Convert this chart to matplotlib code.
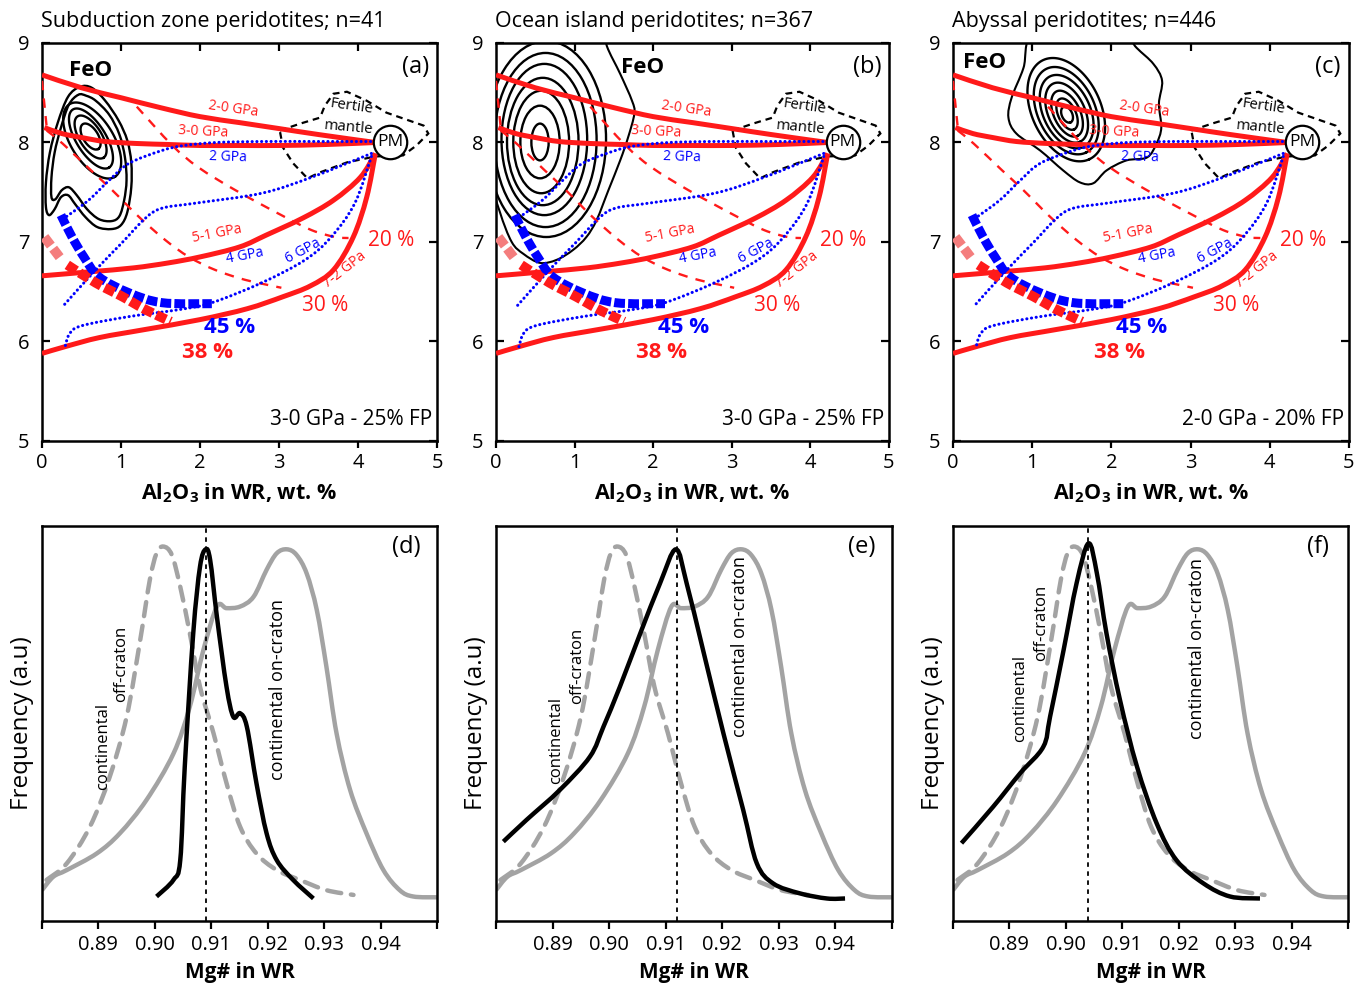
import numpy as np
import matplotlib
matplotlib.use('Agg')
import matplotlib.pyplot as plt
from matplotlib.path import Path
from matplotlib.patches import PathPatch, Ellipse, Polygon

plt.rcParams['font.family'] = ['Open Sans', 'DejaVu Sans']
plt.rcParams['mathtext.fontset'] = 'custom'
plt.rcParams['mathtext.rm'] = 'Open Sans'
plt.rcParams['mathtext.bf'] = 'Open Sans:bold'

# ------------------------------------------------------------------ data
titles = ["Subduction zone peridotites; n=41",
          "Ocean island peridotites; n=367",
          "Abyssal peridotites; n=446"]
panel_top = ["(a)", "(b)", "(c)"]
panel_bot = ["(d)", "(e)", "(f)"]
captions = ["3-0 GPa - 25% FP", "3-0 GPa - 25% FP", "2-0 GPa - 20% FP"]
feo_pos = [(0.61, 8.72), (1.87, 8.75), (0.40, 8.80)]

# melting paths (Al2O3 wt.% vs FeO wt.%)
p20_x = [0.0, 0.5, 1.0, 1.5, 2.0, 2.5, 3.0, 3.5, 4.22]
p20_y = [8.68, 8.55, 8.45, 8.35, 8.26, 8.20, 8.14, 8.08, 8.00]
p30_x = [0.03, 0.25, 0.5, 0.8, 1.2, 1.6, 2.0, 2.5, 3.0, 3.6, 4.22]
p30_y = [8.15, 8.09, 8.05, 8.01, 7.99, 7.98, 7.97, 7.97, 7.97, 7.98, 8.00]
p51_x = [0.0, 0.6, 1.16, 1.6, 2.0, 2.5, 2.84, 3.3, 3.69, 4.03, 4.22]
p51_y = [6.66, 6.70, 6.74, 6.79, 6.85, 6.95, 7.07, 7.24, 7.42, 7.65, 7.89]
p72_x = [0.0, 0.3, 0.73, 1.3, 2.0, 2.6, 3.05, 3.4, 3.69, 3.94, 4.11, 4.22]
p72_y = [5.88, 5.95, 6.04, 6.12, 6.22, 6.33, 6.45, 6.56, 6.72, 7.05, 7.45, 7.89]

# melt-fraction isopleths (dashed)
iso_l_x = [0.0, 0.06]
iso_l_y = [8.62, 8.15]
iso30_x = [0.06, 0.26, 0.62, 0.89, 1.23, 1.56, 1.86, 2.19, 2.57, 3.03]
iso30_y = [8.12, 7.99, 7.72, 7.52, 7.25, 7.02, 6.85, 6.72, 6.62, 6.54]
iso20_x = [1.20, 1.65, 1.98, 2.45, 3.03, 3.41, 3.71, 3.88]
iso20_y = [8.36, 7.97, 7.75, 7.52, 7.27, 7.12, 7.05, 7.04]

# isobaric melting (blue dotted)
g2_x = [4.22, 3.5, 2.8, 2.2, 1.8, 1.52, 1.1, 0.85, 0.59, 0.30]
g2_y = [8.01, 8.01, 8.01, 8.00, 7.97, 7.92, 7.79, 7.62, 7.42, 7.25]
g4_x = [4.17, 3.41, 2.78, 1.94, 1.52, 1.31, 1.01, 0.68, 0.26]
g4_y = [7.89, 7.65, 7.49, 7.39, 7.34, 7.24, 6.99, 6.72, 6.35]
g6_x = [4.17, 3.96, 3.66, 3.33, 2.78, 2.15, 1.73, 1.10, 0.51, 0.35, 0.29]
g6_y = [7.86, 7.39, 7.05, 6.82, 6.59, 6.39, 6.32, 6.25, 6.16, 6.08, 5.94]

# maximum melting (thick dashed)
mb_x = [0.24, 0.38, 0.53, 0.72, 1.10, 1.52, 2.15]
mb_y = [7.27, 7.05, 6.85, 6.65, 6.49, 6.39, 6.38]
mrl_x = [0.03, 0.25]
mrl_y = [7.05, 6.82]
mr_x = [0.32, 0.68, 1.02, 1.31, 1.63]
mr_y = [6.77, 6.59, 6.45, 6.32, 6.20]

# fertile mantle field
fm_x = [3.01, 3.27, 3.52, 3.58, 3.69, 3.86, 4.11, 4.36, 4.83, 4.89, 4.74,
        4.57, 4.22, 3.86, 3.52, 3.36, 3.18, 3.05]
fm_y = [8.12, 8.19, 8.25, 8.37, 8.49, 8.51, 8.42, 8.30, 8.17, 8.09, 7.97,
        7.87, 7.86, 7.80, 7.70, 7.64, 7.79, 7.95]
pm_xy = (4.41, 8.01)

# density contours of the sample sets
# rings: centre x, centre y, semi-axes a, b (screen px), tilt (deg)
rings_a = [(0.615, 8.06, 14.6, 7.5, -58), (0.615, 8.055, 24.4, 11.1, -58),
           (0.62, 8.04, 34.2, 14.7, -58), (0.635, 8.02, 42.8, 21.3, -58)]
outer_a1_x = [0.48, 0.33, 0.20, 0.10, 0.05, 0.05, 0.09, 0.16, 0.24, 0.33, 0.42,
              0.55, 0.70, 0.88, 1.00, 1.08, 1.13, 1.13, 1.08, 0.97, 0.80, 0.63]
outer_a1_y = [8.56, 8.46, 8.20, 7.90, 7.60, 7.35, 7.27, 7.33, 7.45, 7.47, 7.38,
              7.25, 7.15, 7.13, 7.17, 7.30, 7.55, 7.80, 8.02, 8.22, 8.42, 8.55]
outer_a2_x = [0.46, 0.34, 0.24, 0.16, 0.12, 0.12, 0.17, 0.25, 0.34, 0.44, 0.57,
              0.72, 0.88, 0.98, 1.04, 1.07, 1.05, 0.98, 0.85, 0.68, 0.56]
outer_a2_y = [8.48, 8.38, 8.15, 7.90, 7.65, 7.45, 7.43, 7.52, 7.55, 7.47, 7.33,
              7.23, 7.21, 7.26, 7.42, 7.62, 7.85, 8.08, 8.28, 8.42, 8.47]
# (b) rings: cx, cy, semi-x, semi-y (data units)
rings_b = [(0.56, 8.005, 0.11, 0.185), (0.56, 8.005, 0.25, 0.365),
           (0.575, 8.005, 0.355, 0.515), (0.595, 8.01, 0.455, 0.64),
           (0.615, 8.03, 0.545, 0.76), (0.63, 8.025, 0.65, 0.875),
           (0.64, 8.035, 0.76, 0.985)]
outer_b_x = [1.35, 1.41, 1.58, 1.73, 1.76, 1.68, 1.58, 1.43, 1.28, 1.15, 0.98,
             0.77, 0.56, 0.35, 0.20, 0.05, -0.08, -0.15, -0.10, 0.5]
outer_b_y = [9.20, 8.97, 8.69, 8.42, 8.29, 8.05, 7.82, 7.52, 7.22, 7.05, 6.92,
             6.82, 6.79, 6.88, 7.00, 7.30, 7.70, 8.50, 9.20, 9.40]
# (c) rings: centre x, centre y, semi-axes a, b (screen px), tilt (deg)
rings_c = [(1.44, 8.28, 8.5, 5.2, -65), (1.44, 8.285, 16.8, 8.8, -65),
           (1.44, 8.29, 24.6, 13.2, -65), (1.435, 8.30, 32.0, 18.3, -65),
           (1.435, 8.31, 39.0, 23.5, -65), (1.43, 8.32, 46.3, 28.6, -65),
           (1.43, 8.33, 54.7, 34.4, -65)]
outer_c_x = [1.00, 0.89, 0.74, 0.70, 0.80, 1.10, 1.39, 1.60, 1.77, 1.94, 2.19,
             2.45, 2.57, 2.63, 2.60, 2.64, 2.53, 2.32, 2.15, 1.6]
outer_c_y = [9.10, 8.75, 8.45, 8.25, 8.09, 7.92, 7.72, 7.60, 7.59, 7.72, 7.82,
             7.85, 7.99, 8.15, 8.39, 8.62, 8.79, 8.95, 9.10, 9.35]

# Mg# frequency distributions
on_x = [0.8800, 0.8820, 0.8844, 0.8897, 0.8938, 0.8985, 0.9033, 0.9062, 0.9086,
        0.9110, 0.9127, 0.9151, 0.9175, 0.9198, 0.9216, 0.9234, 0.9251, 0.9269,
        0.9287, 0.9304, 0.9322, 0.9346, 0.9375, 0.9405, 0.9434, 0.9458, 0.9500]
on_y = [0.078, 0.112, 0.129, 0.171, 0.222, 0.306, 0.424, 0.543, 0.686, 0.796,
        0.792, 0.796, 0.821, 0.889, 0.931, 0.941, 0.927, 0.880, 0.787, 0.644,
        0.475, 0.332, 0.222, 0.129, 0.078, 0.062, 0.060]
off_x = [0.8808, 0.8844, 0.8885, 0.8920, 0.8950, 0.8974, 0.8991, 0.9003, 0.9015,
         0.9030, 0.9045, 0.9062, 0.9080, 0.9104, 0.9127, 0.9151, 0.9180, 0.9216,
         0.9257, 0.9304, 0.9352]
off_y = [0.104, 0.146, 0.239, 0.365, 0.517, 0.711, 0.863, 0.931, 0.948, 0.927,
         0.846, 0.728, 0.593, 0.475, 0.349, 0.239, 0.171, 0.129, 0.104, 0.078,
         0.066]
sz_x = [0.9003, 0.9033, 0.9045, 0.9053, 0.9068, 0.9080, 0.9090, 0.9098, 0.9110,
        0.9127, 0.9139, 0.9151, 0.9163, 0.9180, 0.9198, 0.9216, 0.9245, 0.9281]
sz_y = [0.062, 0.104, 0.154, 0.391, 0.728, 0.897, 0.941, 0.914, 0.770, 0.593,
        0.517, 0.526, 0.492, 0.349, 0.222, 0.154, 0.104, 0.057]
oi_x = [0.8813, 0.8854, 0.8913, 0.8966, 0.8990, 0.9019, 0.9055, 0.9090, 0.9118,
        0.9137, 0.9166, 0.9202, 0.9237, 0.9261, 0.9290, 0.9337, 0.9385, 0.9417]
oi_y = [0.201, 0.256, 0.332, 0.416, 0.492, 0.593, 0.728, 0.855, 0.941, 0.855,
        0.686, 0.475, 0.281, 0.146, 0.095, 0.070, 0.057, 0.057]
ab_x = [0.8815, 0.8871, 0.8919, 0.8960, 0.8972, 0.8996, 0.9019, 0.9040, 0.9055,
        0.9072, 0.9096, 0.9126, 0.9161, 0.9196, 0.9244, 0.9291, 0.9344]
ab_y = [0.197, 0.289, 0.374, 0.441, 0.517, 0.686, 0.855, 0.956, 0.880, 0.728,
        0.559, 0.391, 0.247, 0.154, 0.095, 0.062, 0.057]
black_x = [sz_x, oi_x, ab_x]
black_y = [sz_y, oi_y, ab_y]
mode_mg = [0.909, 0.912, 0.904]
offlab = [((0.8909, 0.441), (0.8941, 0.650)), ((0.8907, 0.458), (0.8943, 0.646)),
          ((0.8919, 0.564), (0.8957, 0.755))]
onlab = [(0.9219, 0.585), (0.9231, 0.694), (0.9232, 0.690)]

RED = '#ff1a1a'
BLUE = '#0000ff'
GRAY = '#a3a3a3'


def smooth_path(xs, ys, closed=False):
    P = np.column_stack([xs, ys]).astype(float)
    n = len(P)
    if closed:
        pts = np.vstack([P[-1], P, P[0], P[1]])
        nseg = n
    else:
        pts = np.vstack([P[0], P, P[-1]])
        nseg = n - 1
    verts = [pts[1]]
    codes = [Path.MOVETO]
    for i in range(1, nseg + 1):
        p0, p1, p2, p3 = pts[i - 1], pts[i], pts[i + 1], pts[i + 2]
        verts += [p1 + (p2 - p0) / 6.0, p2 - (p3 - p1) / 6.0, p2]
        codes += [Path.CURVE4] * 3
    return Path(verts, codes)


def draw(ax, xs, ys, closed=False, **kw):
    patch = PathPatch(smooth_path(xs, ys, closed), fill=False, **kw)
    ax.add_patch(patch)
    return patch


def ring_px(ax, cx, cy, a, b, ang, xs_px, ys_px, lw=1.7):
    # ellipse given in screen pixels, converted into data units
    t = np.linspace(0, 2 * np.pi, 121)
    th = np.deg2rad(ang)
    u = a * np.cos(t)
    v = b * np.sin(t)
    dx = u * np.cos(th) - v * np.sin(th)
    dy = u * np.sin(th) + v * np.cos(th)
    ax.plot(cx + dx / xs_px, cy + dy / ys_px, color='black', lw=lw, zorder=1)


fig = plt.figure(figsize=(13.6, 9.85), dpi=100)
W, H = 1360.0, 985.0
top_lefts = [42, 496, 953]
top_w = [395, 393, 396]
bot_lefts = [42, 496, 953]
bot_w = [395, 396, 395]

for k in range(3):
    ax = fig.add_axes([top_lefts[k] / W, (H - 441) / H, top_w[k] / W, 398 / H])
    ax.set_xlim(0, 5)
    ax.set_ylim(5, 9)
    xs_px = top_w[k] / 5.0
    ys_px = 398 / 4.0

    # contours
    if k == 0:
        for r in rings_a:
            ring_px(ax, *r, xs_px, ys_px)
        draw(ax, outer_a1_x, outer_a1_y, closed=True, edgecolor='black', lw=1.7, zorder=1)
        draw(ax, outer_a2_x, outer_a2_y, closed=True, edgecolor='black', lw=1.7, zorder=1)
    elif k == 1:
        for (cx, cy, rx, ry) in rings_b:
            ax.add_patch(Ellipse((cx, cy), 2 * rx, 2 * ry, fill=False,
                                 edgecolor='black', lw=1.7, zorder=1))
        draw(ax, outer_b_x, outer_b_y, closed=True, edgecolor='black', lw=1.5, zorder=1)
    else:
        for r in rings_c:
            ring_px(ax, *r, xs_px, ys_px)
        draw(ax, outer_c_x, outer_c_y, closed=True, edgecolor='black', lw=1.5, zorder=1)

    # fertile mantle field
    ax.add_patch(Polygon(np.column_stack([fm_x, fm_y]), closed=True, fill=False,
                         edgecolor='black', lw=1.6, linestyle=(0, (3, 2.2)), zorder=2))

    # isopleths
    for xs, ys in [(iso_l_x, iso_l_y), (iso30_x, iso30_y), (iso20_x, iso20_y)]:
        draw(ax, xs, ys, edgecolor=RED, lw=1.7, linestyle=(0, (4, 3.5)), zorder=3)

    # isobaric blue dotted
    for xs, ys in [(g2_x, g2_y), (g4_x, g4_y), (g6_x, g6_y)]:
        draw(ax, xs, ys, edgecolor=BLUE, lw=2.2, linestyle=(0, (0.05, 1.5)),
             capstyle='round', zorder=5)

    # polybaric red paths
    for xs, ys in [(p20_x, p20_y), (p30_x, p30_y), (p51_x, p51_y), (p72_x, p72_y)]:
        draw(ax, xs, ys, edgecolor=RED, lw=3.6, zorder=4, capstyle='butt')

    # thick dashed limits
    draw(ax, mb_x, mb_y, edgecolor=BLUE, lw=6.5, linestyle=(0, (1.2, 0.35)),
         capstyle='butt', zorder=6)
    ax.plot(mrl_x, mrl_y, color='#f47d7d', lw=7, linestyle=(0, (1.1, 0.4)),
            dash_capstyle='butt', zorder=6)
    draw(ax, mr_x, mr_y, edgecolor=RED, lw=7, linestyle=(0, (1.1, 0.4)),
         capstyle='butt', zorder=6)

    # PM circle
    ax.scatter([pm_xy[0]], [pm_xy[1]], s=580, facecolor='white', edgecolor='black',
               lw=1.6, zorder=8)
    ax.text(pm_xy[0], pm_xy[1], 'PM', ha='center', va='center', fontsize=12.5, zorder=9)

    # labels on curves
    ax.text(2.42, 8.34, '2-0 GPa', color=RED, fontsize=10, rotation=-8,
            ha='center', va='center', zorder=7)
    ax.text(2.04, 8.11, '3-0 GPa', color=RED, fontsize=10, rotation=-3,
            ha='center', va='center', zorder=7)
    ax.text(2.36, 7.85, '2 GPa', color=BLUE, fontsize=10, rotation=-2,
            ha='center', va='center', zorder=7)
    ax.text(2.21, 7.08, '5-1 GPa', color=RED, fontsize=10, rotation=11,
            ha='center', va='center', zorder=7)
    ax.text(2.57, 6.86, '4 GPa', color=BLUE, fontsize=10, rotation=11,
            ha='center', va='center', zorder=7)
    ax.text(3.31, 6.91, '6 GPa', color=BLUE, fontsize=10, rotation=28,
            ha='center', va='center', zorder=7)
    ax.text(3.83, 6.72, '7-2 GPa', color=RED, fontsize=10, rotation=38,
            ha='center', va='center', zorder=7)
    ax.text(4.42, 7.02, '20 %', color=RED, fontsize=15, ha='center', va='center', zorder=7)
    ax.text(3.58, 6.36, '30 %', color=RED, fontsize=15, ha='center', va='center', zorder=7)
    ax.text(2.38, 6.14, '45 %', color=BLUE, fontsize=16, fontweight='bold',
            ha='center', va='center', zorder=7)
    ax.text(2.1, 5.89, '38 %', color=RED, fontsize=16, fontweight='bold',
            ha='center', va='center', zorder=7)
    ax.text(3.92, 8.36, 'Fertile', fontsize=10.8, rotation=-8, ha='center',
            va='center', zorder=7)
    ax.text(3.88, 8.15, 'mantle', fontsize=10.8, rotation=-5, ha='center',
            va='center', zorder=7)
    ax.text(feo_pos[k][0], feo_pos[k][1], 'FeO', fontsize=16, fontweight='bold',
            ha='center', va='center', zorder=7)
    ax.text(0.945, 0.94, panel_top[k], transform=ax.transAxes, fontsize=17,
            ha='center', va='center')
    ax.text(0.988, 0.055, captions[k], transform=ax.transAxes, fontsize=15,
            ha='right', va='center')

    # axes styling
    ax.set_xticks([0, 1, 2, 3, 4, 5])
    ax.set_yticks([5, 6, 7, 8, 9])
    ax.tick_params(axis='x', direction='out', length=5, width=1.6, labelsize=14.5,
                   pad=4)
    ax.tick_params(axis='y', direction='in', length=6, width=1.6, labelsize=14.5,
                   left=True, right=True, pad=9)
    sec = ax.secondary_xaxis('top')
    sec.set_xticks([1, 2, 3, 4])
    sec.tick_params(direction='in', length=6, width=1.6, labeltop=False)
    sec.spines['top'].set_visible(False)
    for s in ax.spines.values():
        s.set_linewidth(1.8)
    ax.set_xlabel(r'Al$_\mathbf{2}$O$_\mathbf{3}$ in WR, wt. %', fontsize=15.5,
                  fontweight='bold', labelpad=6)
    fig.text(top_lefts[k] / W - 0.0005, 1 - 21 / H, titles[k], fontsize=15.5,
             ha='left', va='center')

for k in range(3):
    ax = fig.add_axes([bot_lefts[k] / W, (H - 921) / H, bot_w[k] / W, 395 / H])
    ax.set_xlim(0.88, 0.95)
    ax.set_ylim(0, 1)
    draw(ax, on_x, on_y, edgecolor=GRAY, lw=3.2, joinstyle='round',
         capstyle='butt', zorder=2)
    draw(ax, off_x, off_y, edgecolor=GRAY, lw=3.2, linestyle=(0, (3.2, 2.2)),
         capstyle='round', zorder=2)
    draw(ax, black_x[k], black_y[k], edgecolor='black', lw=3.2, joinstyle='round',
         capstyle='butt', zorder=3)
    ax.axvline(mode_mg[k], color='black', lw=1.3, linestyle=(0, (2.5, 2.5)), zorder=4)
    (c1, c2) = offlab[k]
    ax.text(c1[0], c1[1], 'continental', rotation=90, fontsize=12,
            ha='center', va='center')
    ax.text(c2[0], c2[1], 'off-craton', rotation=90, fontsize=12,
            ha='center', va='center')
    ax.text(onlab[k][0], onlab[k][1], 'continental on-craton', rotation=90,
            fontsize=13, ha='center', va='center')
    ax.text(0.923, 0.948, panel_bot[k], transform=ax.transAxes, fontsize=17,
            ha='center', va='center')
    ax.set_xticks([0.88, 0.89, 0.90, 0.91, 0.92, 0.93, 0.94, 0.95])
    ax.set_xticklabels(['', '0.89', '0.90', '0.91', '0.92', '0.93', '0.94', ''])
    ax.set_yticks([])
    ax.tick_params(axis='x', direction='out', length=6, width=1.6, labelsize=14.5,
                   pad=4)
    for s in ax.spines.values():
        s.set_linewidth(1.8)
    ax.set_xlabel('Mg# in WR', fontsize=15, fontweight='bold', labelpad=5)
    ax.set_ylabel('Frequency (a.u)', fontsize=17.5, labelpad=6)

fig.savefig('out.png', dpi=100)
